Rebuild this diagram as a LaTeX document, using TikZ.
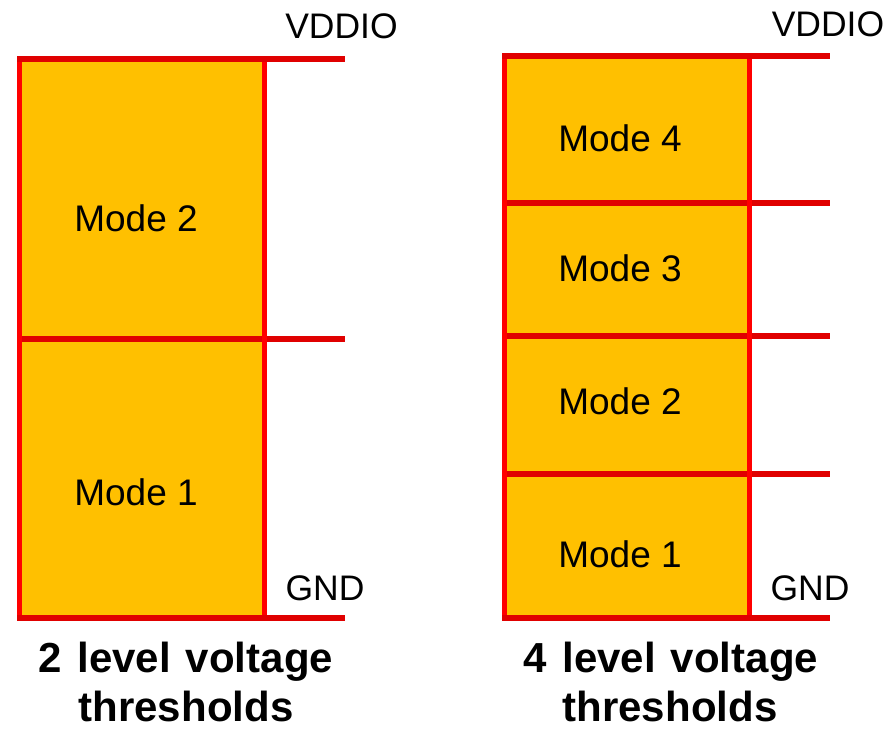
\documentclass[tikz,border=0pt]{standalone}
\usepackage{fontspec}
\setmainfont{Liberation Sans}
\definecolor{modeFill}{HTML}{FFC000}
\definecolor{boxRed}{HTML}{FF0000}
\definecolor{levelRed}{HTML}{E00000}
\newcommand\titlefont{\fontsize{42}{48}\selectfont\bfseries\spaceskip=0.36em\relax}
\tikzset{
  levelline/.style={levelRed, line width=6pt},
  boxedge/.style={boxRed, line width=5pt},
  modetext/.style={anchor=base, inner sep=0pt, font=\fontsize{37}{44}\selectfont},
  railtext/.style={anchor=base, inner sep=0pt, font=\fontsize{35.5}{42}\selectfont},
  titletext/.style={anchor=base, inner sep=0pt, font=\titlefont},
}

\begin{document}
\begin{tikzpicture}[x=1pt, y=-1pt]
    \useasboundingbox (0,0) rectangle (891,729);

    % 2 level block
    \fill[modeFill] (19.5,58.5) rectangle (264.5,618);
    \draw[levelline] (19.5,338.5) -- (345,338.5);
    \draw[boxedge] (19.5,61) -- (19.5,615);
    \draw[boxedge] (264.5,61) -- (264.5,615);
    \foreach \y in {58.5,618}
        \draw[levelline] (17,\y) -- (345,\y);

    \node[modetext] (lmode2) at (136,231.5) {Mode 2};
    \node[modetext] (lmode1) at (136,505) {Mode 1};
    \node[railtext] (lvdd) at (341.5,38.5) {VDDIO};
    \node[railtext] (lgnd) at (325,600) {GND};
    \node[titletext] (ltitle1) at (186,672) {2 level voltage};
    \node[titletext] (ltitle2) at (186,721) {thresholds};

    % 4 level block
    \fill[modeFill] (504.5,55.5) rectangle (749.5,618);
    \foreach \y in {202.5,335.5,474}
        \draw[levelline] (504.5,\y) -- (830,\y);
    \draw[boxedge] (504.5,58) -- (504.5,615);
    \draw[boxedge] (749.5,58) -- (749.5,615);
    \foreach \y in {55.5,618}
        \draw[levelline] (502,\y) -- (830,\y);

    \foreach \n/\y in {4/151.5,3/281.5,2/414.5,1/567.5}
        \node[modetext] (rmode\n) at (620,\y) {Mode \n};
    \node[railtext] (rvdd) at (828,36.5) {VDDIO};
    \node[railtext] (rgnd) at (810,600) {GND};
    \node[titletext] (rtitle1) at (671,672) {4 level voltage};
    \node[titletext] (rtitle2) at (670,721) {thresholds};
\end{tikzpicture}
\end{document}
